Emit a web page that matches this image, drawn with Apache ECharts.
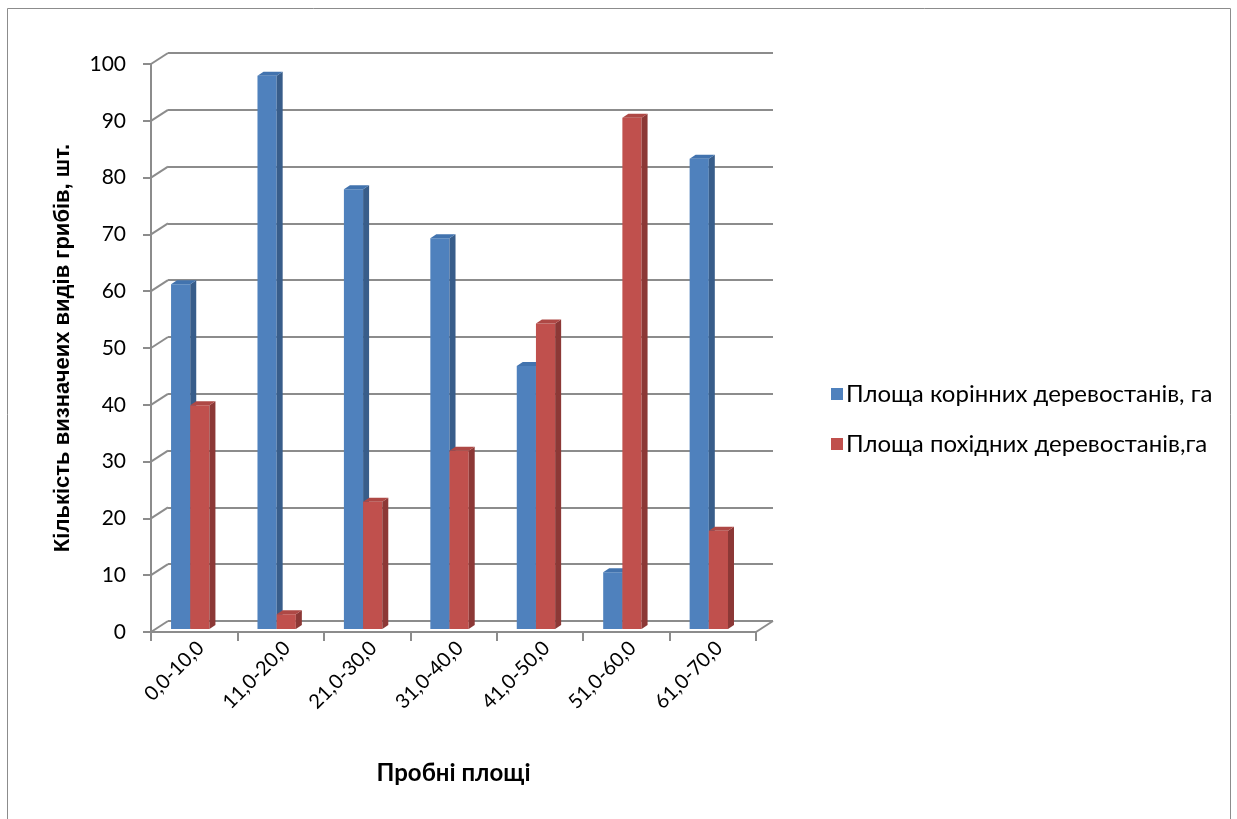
<!DOCTYPE html>
<html>
<head>
<meta charset="utf-8">
<script src="https://cdn.jsdelivr.net/npm/echarts@6/dist/echarts.min.js"></script>
<style>
  html, body { margin: 0; padding: 0; background: #fff; }
  #chart { width: 1237px; height: 819px; }
</style>
</head>
<body>
<div id="chart"></div>
<script>
// Sample plots (age ranges) along the horizontal axis
const categories = ['0,0-10,0', '11,0-20,0', '21,0-30,0', '31,0-40,0', '41,0-50,0', '51,0-60,0', '61,0-70,0'];
// Series values
const rootStands = [60.7, 97.4, 77.4, 68.8, 46.3, 10.0, 82.8];
const derivedStands = [39.4, 2.6, 22.4, 31.4, 53.8, 90.0, 17.3];
const seriesNames = ['Площа корінних деревостанів, га', 'Площа похідних деревостанів,га'];
// Value axis ticks
const yTicks = [0, 10, 20, 30, 40, 50, 60, 70, 80, 90, 100];

const BLUE = { front: '#4F81BD', side: '#385D8A', top: '#4273AE' };
const RED = { front: '#C0504D', side: '#8C3836', top: '#AE4845' };
const GRID_COLOR = '#8C8C8C';
const FONT = 'Lato, "Open Sans", sans-serif';

// oblique depth of the back wall relative to the front plane
const WALL_DX = 17, WALL_DY = -11;
// depth of each column
const BAR_DX = 6, BAR_DY = -4;

function barRenderer(offsetRatio, colors) {
  return function (params, api) {
    const cat = api.value(0);
    const val = api.value(1);
    const base = api.coord([cat, 0]);
    const topPt = api.coord([cat, val]);
    const band = api.size([1, 0])[0];
    const w = band * 0.222;
    const x0 = base[0] - band * offsetRatio;
    const x1 = x0 + w;
    const yb = base[1] - 3;
    const yt = topPt[1] - 3;
    return {
      type: 'group',
      children: [
        { type: 'rect', shape: { x: x0, y: yt, width: w, height: yb - yt },
          style: { fill: colors.front } },
        { type: 'polygon', shape: { points: [[x1, yt], [x1 + BAR_DX, yt + BAR_DY], [x1 + BAR_DX, yb + BAR_DY], [x1, yb]] },
          style: { fill: colors.side } },
        { type: 'polygon', shape: { points: [[x0, yt], [x0 + BAR_DX, yt + BAR_DY], [x1 + BAR_DX, yt + BAR_DY], [x1, yt]] },
          style: { fill: colors.top } }
      ]
    };
  };
}

const chart = echarts.init(document.getElementById('chart'), null, { renderer: 'canvas' });

chart.setOption({
  animation: false,
  backgroundColor: '#fff',
  textStyle: { fontFamily: FONT },
  graphic: [
    { type: 'rect', shape: { x: 7.5, y: 8.5, width: 1223, height: 830 },
      style: { fill: 'none', stroke: '#8C8C8C', lineWidth: 1 }, z: 0 }
  ],
  legend: {
    orient: 'vertical',
    left: 826,
    top: 377,
    itemWidth: 12,
    itemHeight: 12,
    itemGap: 26,
    icon: 'rect',
    textStyle: { fontFamily: FONT, fontSize: 24, color: '#000', padding: [0, 0, 0, -2] },
    data: seriesNames
  },
  grid: [
    { left: 151, top: 64, width: 605, height: 568 },   // front plane
    { left: 168, top: 53, width: 605, height: 568 }    // back wall
  ],
  xAxis: [
    {
      type: 'category', gridIndex: 0, data: categories,
      axisLine: { show: true, lineStyle: { color: GRID_COLOR, width: 2 } },
      axisTick: { show: true, length: 9, alignWithLabel: false, lineStyle: { color: GRID_COLOR, width: 2 } },
      axisLabel: { rotate: 45, fontSize: 20, color: '#000', fontFamily: FONT, margin: 19,
        padding: [0, -9, 0, 0] },
      name: 'Пробні площі', nameLocation: 'middle', nameGap: 129,
      nameTextStyle: { fontSize: 24, fontWeight: 'bold', color: '#000', fontFamily: FONT }
    },
    { type: 'category', gridIndex: 1, data: categories, show: false }
  ],
  yAxis: [
    {
      type: 'value', gridIndex: 0, min: 0, max: 100, interval: 10,
      axisLine: { show: true, lineStyle: { color: GRID_COLOR, width: 2 } },
      axisTick: { show: true, length: 8, lineStyle: { color: GRID_COLOR, width: 2 } },
      axisLabel: { fontSize: 21, color: '#000', margin: 25, fontFamily: FONT,
        formatter: v => (yTicks.indexOf(v) >= 0 ? String(v) : '') },
      splitLine: { show: false },
      name: 'Кількість визначеих видів грибів, шт.', nameLocation: 'middle', nameGap: 77,
      nameRotate: 90,
      nameTextStyle: { fontSize: 22, fontWeight: 'bold', color: '#000',
        fontFamily: '"Liberation Sans", sans-serif' }
    },
    {
      type: 'value', gridIndex: 1, min: 0, max: 100, interval: 10,
      axisLine: { show: false }, axisTick: { show: false }, axisLabel: { show: false },
      splitLine: { show: true, lineStyle: { color: GRID_COLOR, width: 2 } }
    }
  ],
  series: [
    {
      // left-wall and floor edges joining the front plane to the back wall
      type: 'custom', name: 'walls', xAxisIndex: 0, yAxisIndex: 0,
      data: yTicks.map(v => [0, v]),
      silent: true, z: 1,
      renderItem: function (params, api) {
        const cs = params.coordSys;
        const y = api.coord([0, api.value(1)])[1];
        const children = [
          { type: 'line', shape: { x1: cs.x, y1: y, x2: cs.x + WALL_DX, y2: y + WALL_DY },
            style: { stroke: GRID_COLOR, lineWidth: 2 } }
        ];
        if (api.value(1) === 0) {
          children.push({ type: 'line',
            shape: { x1: cs.x + cs.width, y1: y, x2: cs.x + cs.width + WALL_DX, y2: y + WALL_DY },
            style: { stroke: GRID_COLOR, lineWidth: 2 } });
        }
        return { type: 'group', children };
      }
    },
    {
      type: 'custom', name: seriesNames[0], xAxisIndex: 0, yAxisIndex: 0,
      itemStyle: { color: BLUE.front }, z: 3,
      encode: { x: 0, y: 1 },
      data: rootStands.map((v, i) => [i, v]),
      renderItem: barRenderer(0.268, BLUE)
    },
    {
      type: 'custom', name: seriesNames[1], xAxisIndex: 0, yAxisIndex: 0,
      itemStyle: { color: RED.front }, z: 4,
      encode: { x: 0, y: 1 },
      data: derivedStands.map((v, i) => [i, v]),
      renderItem: barRenderer(0.046, RED)
    }
  ]
});
</script>
</body>
</html>
